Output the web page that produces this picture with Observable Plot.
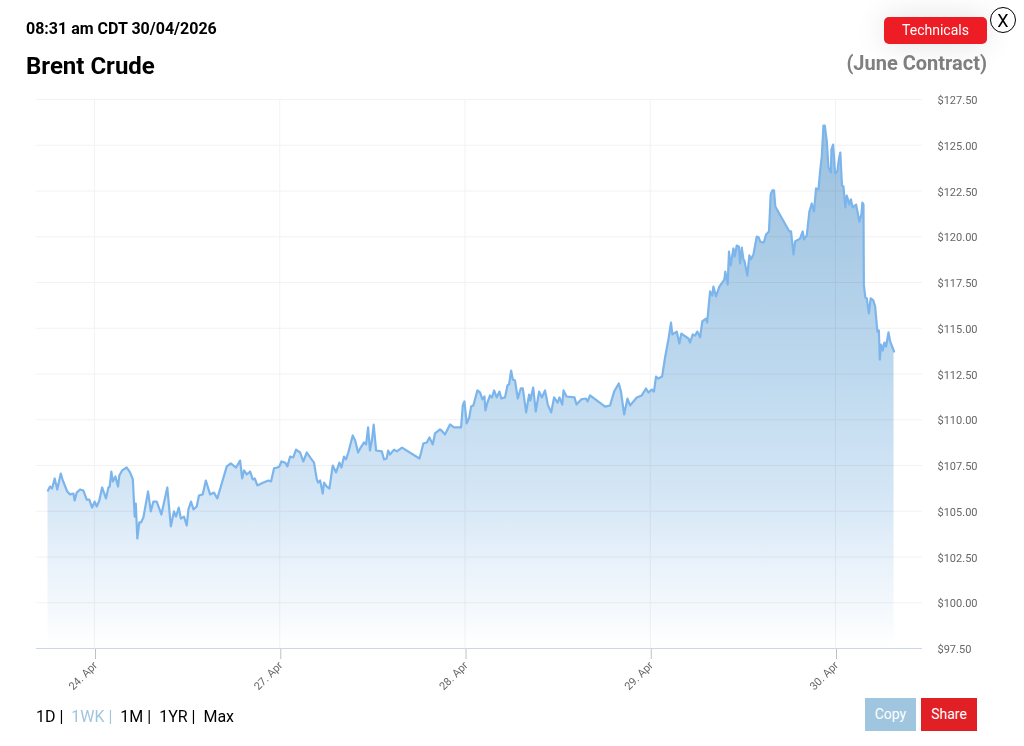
<!DOCTYPE html>
<html>
<head>
<meta charset="utf-8">
<script src="https://cdn.jsdelivr.net/npm/d3@7"></script>
<script src="https://cdn.jsdelivr.net/npm/@observablehq/plot@0.6"></script>
<style>
html,body{margin:0;padding:0;background:#fff;font-family:Roboto,sans-serif;overflow:hidden}
#page{position:relative;width:1024px;height:746px}
#chart{position:absolute;left:0;top:90px}
.t{position:absolute;white-space:nowrap}
.btn{position:absolute;color:#fff;text-align:center;font-size:14px}
</style>
</head>
<body>
<div id="page">
<div class="t" style="left:26px;top:19px;font-size:16px;line-height:19px;font-weight:700;color:#000">08:31 am CDT 30/04/2026</div>
<div class="t" style="left:26px;top:52px;font-size:24px;line-height:29px;font-weight:700;color:#000">Brent Crude</div>
<div class="t" style="right:37px;top:51px;font-size:20px;line-height:24px;font-weight:700;color:#808080">(June Contract)</div>
<div class="btn" style="left:884px;top:17px;width:103px;height:27px;line-height:26px;background:#ee1c25;border-radius:5px;box-shadow:0 0 30px rgba(0,0,0,.12)">Technicals</div>
<div class="btn" style="left:990px;top:7px;width:24px;height:24px;line-height:25px;background:#fff;border:1px solid #000;border-radius:50%;color:#000;font-size:18px">X</div>
<div id="chart"></div>
<div class="t" style="left:36px;top:707px;font-size:16px;line-height:19px;color:#000">1D |&nbsp; <span style="color:#9fc6de">1WK |</span>&nbsp; 1M |&nbsp; 1YR |&nbsp; Max</div>
<div class="btn" style="left:865px;top:698px;width:51px;height:33px;line-height:33px;background:#9fc6de">Copy</div>
<div class="btn" style="left:921px;top:698px;width:56px;height:33px;line-height:33px;background:#e02025">Share</div>
</div>
<script>
// Trading-session position: 0 = 24 Apr tick, 1 = 27 Apr, 2 = 28 Apr, 3 = 29 Apr, 4 = 30 Apr
const sessionPos = [
-0.254,-0.243,-0.232,-0.218,-0.204,-0.185,-0.174,-0.150,-0.135,-0.117,-0.110,-0.099,-0.081,-0.063,-0.045,-0.031,-0.016,-0.002,0.009,0.023,
0.038,0.059,0.072,0.079,0.088,0.096,0.110,0.124,0.131,0.146,0.171,0.189,0.204,0.214,0.220,0.228,0.239,0.248,0.261,0.286,
0.301,0.315,0.333,0.358,0.390,0.409,0.426,0.437,0.452,0.463,0.480,0.495,0.504,0.518,0.531,0.549,0.561,0.581,0.598,0.621,
0.642,0.660,0.711,0.733,0.761,0.783,0.794,0.804,0.819,0.837,0.851,0.862,0.876,0.909,0.936,0.950,0.966,0.984,0.995,1.006,
1.026,1.038,1.053,1.070,1.085,1.107,1.124,1.143,1.161,1.182,1.197,1.204,1.215,1.229,1.236,1.251,1.265,1.283,1.301,1.319,
1.330,1.344,1.355,1.367,1.391,1.404,1.420,1.434,1.452,1.463,1.474,1.484,1.495,1.504,1.517,1.548,1.560,1.574,1.582,1.592,
1.614,1.629,1.657,1.751,1.760,1.772,1.791,1.805,1.823,1.835,1.862,1.875,1.889,1.916,1.938,1.976,1.985,1.994,2.006,2.020,
2.030,2.042,2.064,2.078,2.091,2.102,2.107,2.118,2.132,2.143,2.154,2.168,2.183,2.193,2.213,2.226,2.235,2.246,2.255,2.267,
2.282,2.298,2.309,2.327,2.343,2.350,2.365,2.379,2.397,2.412,2.429,2.444,2.462,2.478,2.497,2.507,2.522,2.529,2.545,2.588,
2.599,2.624,2.650,2.659,2.672,2.753,2.780,2.802,2.827,2.839,2.856,2.874,2.888,2.924,2.951,2.974,2.987,3.005,3.017,3.028,
3.041,3.061,3.077,3.095,3.109,3.116,3.140,3.154,3.165,3.203,3.212,3.226,3.239,3.251,3.266,3.278,3.298,3.304,3.320,3.332,
3.338,3.352,3.370,3.397,3.402,3.415,3.422,3.431,3.446,3.453,3.464,3.475,3.482,3.491,3.500,3.505,3.521,3.532,3.540,3.554,
3.572,3.583,3.590,3.605,3.611,3.622,3.638,3.647,3.656,3.665,3.672,3.748,3.757,3.770,3.779,3.806,3.820,3.827,3.842,3.856,
3.869,3.881,3.892,3.905,3.914,3.923,3.932,3.939,3.950,3.959,3.972,3.975,3.984,3.995,4.007,4.015,4.023,4.032,4.040,4.050,
4.058,4.072,4.080,4.090,4.108,4.126,4.137,4.142,4.148,4.150,4.158,4.166,4.177,4.187,4.201,4.211,4.223,4.231,4.236,4.243,
4.252,4.261,4.270,4.283,4.292,4.313
];
const prices = [
106.13,106.35,106.24,106.79,106.19,107.06,106.68,106.08,105.92,105.97,105.59,106.02,106.19,106.13,105.64,105.64,105.20,105.53,105.26,105.59,
106.30,105.70,106.30,106.35,107.17,106.63,106.90,106.35,106.95,107.23,107.39,107.12,106.74,104.71,105.42,103.51,104.39,104.39,104.66,106.08,
104.99,105.53,105.53,104.82,106.30,104.17,104.99,104.71,105.20,104.60,104.71,104.22,105.10,105.53,105.10,105.26,105.86,105.92,106.68,105.92,
106.02,105.70,107.45,107.61,107.39,107.77,106.79,107.23,107.01,107.17,106.74,106.79,106.41,106.57,106.68,106.63,107.34,107.39,107.45,107.72,
107.66,107.45,107.99,107.94,108.37,108.21,107.72,108.21,107.94,107.66,106.74,106.57,106.68,105.97,106.57,106.35,106.24,107.50,107.12,107.66,
107.39,107.99,107.83,108.21,109.14,108.87,108.21,108.48,108.76,108.65,109.58,108.32,108.92,109.74,108.32,108.27,107.83,107.88,108.32,108.10,
108.37,108.27,108.48,107.88,108.21,108.70,108.76,109.03,108.65,109.25,109.47,109.36,109.19,109.74,109.58,109.58,110.78,111.00,109.80,110.12,
110.72,110.78,111.60,111.49,111.11,111.27,110.51,110.94,111.33,111.22,111.60,111.22,111.54,111.16,111.22,111.87,111.93,112.69,112.20,112.14,
111.16,111.71,111.71,110.40,111.38,111.05,111.76,110.45,111.54,111.22,111.60,110.83,110.40,111.22,110.94,111.22,110.83,111.60,111.27,111.22,
110.83,111.11,111.16,111.00,111.33,110.72,110.78,111.54,111.98,111.54,110.29,111.16,110.78,111.22,111.33,111.71,111.49,111.65,111.54,112.36,
112.25,112.36,113.40,114.39,115.31,114.66,114.82,114.17,114.71,114.44,114.22,114.66,114.60,114.82,114.50,115.37,115.53,115.31,117.01,116.79,
117.28,116.74,117.28,117.66,118.10,117.39,119.19,118.43,119.36,118.92,119.52,119.47,118.54,119.41,118.76,118.70,117.88,118.98,118.76,119.03,
120.01,119.96,119.74,119.69,119.72,120.12,120.29,122.31,122.53,122.53,121.65,120.29,120.29,119.03,119.74,119.90,120.29,119.85,120.07,121.38,
121.82,121.38,122.64,122.58,123.57,124.39,126.08,126.08,125.21,123.78,123.51,124.77,125.04,123.46,123.57,124.22,124.60,122.80,122.75,121.60,
122.25,121.76,122.04,121.60,121.76,120.83,121.22,121.87,121.76,117.39,116.68,116.63,115.81,116.63,116.52,116.19,114.82,114.88,113.29,114.11,
113.78,114.22,114.00,114.77,114.28,113.73
];
const yTicks = [97.5,100,102.5,105,107.5,110,112.5,115,117.5,120,122.5,125,127.5];
const xTicks = [0,1,2,3,4];
const xTickLabels = ["24. Apr","27. Apr","28. Apr","29. Apr","30. Apr"];
const sessionShift = 0.003;
const data = prices.map((p,i)=>({x:sessionPos[i]+sessionShift,y:p}));
const gradientStops = [
  ["0%","#9cc2dd"],["14%","#a4c7e3"],["46%","#bcd8ee"],["72%","#d6e7f6"],
  ["83%","#e8f1fa"],["93%","#f5f9fd"],["98.5%","#fdfeff"],["100%","#ffffff"]
];

const gradient = () => {
  const defs = d3.create("svg:defs");
  const g = defs.append("linearGradient").attr("id","areaFill").attr("x1",0).attr("y1",0).attr("x2",0).attr("y2",1);
  for (const [o,c] of gradientStops) g.append("stop").attr("offset",o).attr("stop-color",c);
  return defs.node();
};

const chart = Plot.plot({
  width:1024, height:605,
  marginTop:9, marginBottom:47, marginLeft:36, marginRight:102,
  style:{fontFamily:"Roboto, sans-serif",background:"transparent",overflow:"visible"},
  x:{type:"linear",domain:[-0.3131,4.4696]},
  y:{type:"linear",domain:[97.5,127.5]},
  marks:[
    gradient,
    Plot.ruleY(yTicks,{stroke:"#f2f2f2",strokeWidth:1}),
    Plot.ruleX(xTicks,{stroke:"#f2f2f2",strokeWidth:1}),
    Plot.areaY(data,{x:"x",y1:97.5,y2:"y",fill:"url(#areaFill)",curve:"linear",mixBlendMode:"multiply"}),
    Plot.lineY(data,{x:"x",y:"y",stroke:"#7cb5ec",strokeWidth:2.2,curve:"linear"}),
    Plot.ruleY([97.5],{stroke:"#ccd6eb",strokeWidth:1}),
    Plot.axisY({anchor:"right",ticks:yTicks,tickSize:0,tickPadding:15,label:null,
      tickFormat:d=>"$"+d.toFixed(2),fontSize:11,fill:"#666666",dy:1,textAnchor:"start"}),
    Plot.axisX({ticks:xTicks,tickSize:10,stroke:"#c0c0c0",tickPadding:4,label:null,
      tickFormat:d=>xTickLabels[xTicks.indexOf(d)],fontSize:11,fill:"#666666",dx:1,dy:1,
      tickRotate:-45,textAnchor:"end"})
  ]
});
document.getElementById("chart").appendChild(chart);
</script>
</body>
</html>
